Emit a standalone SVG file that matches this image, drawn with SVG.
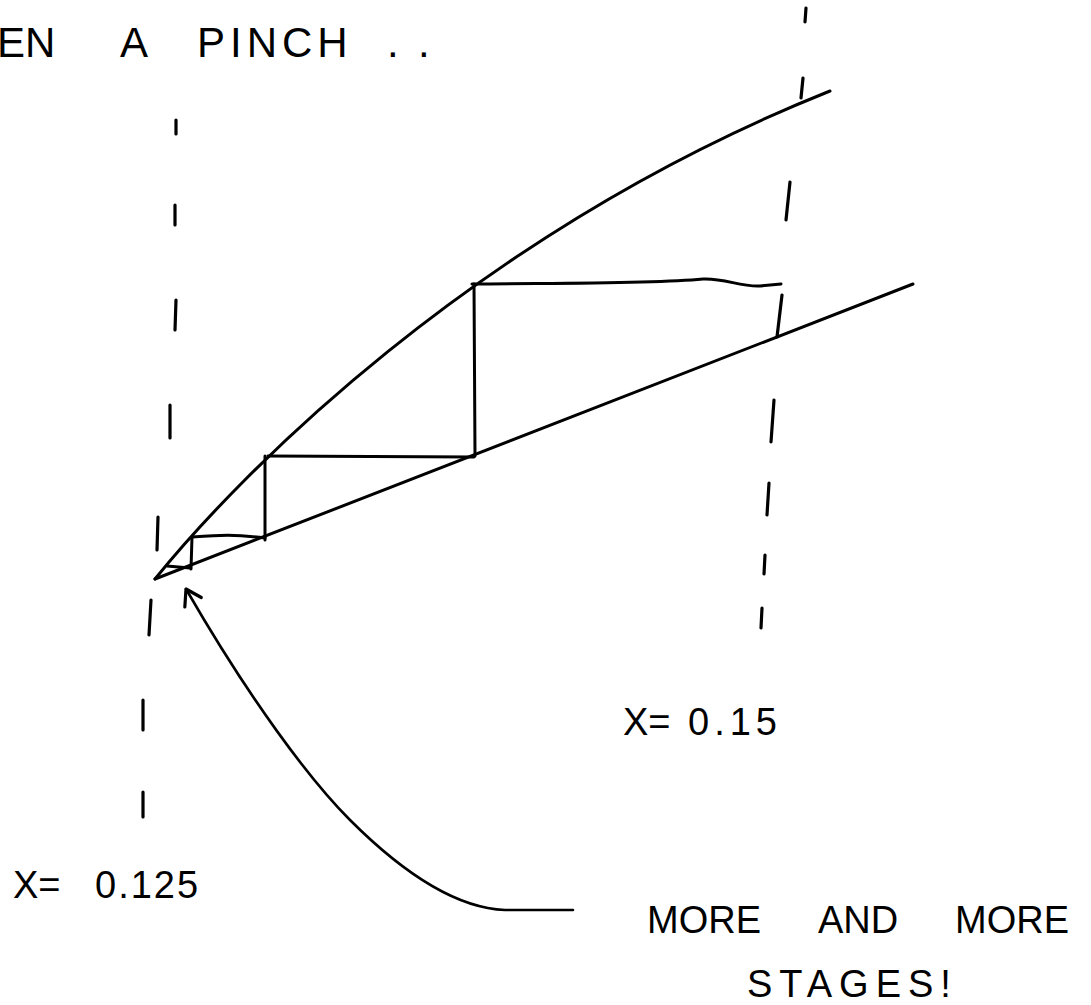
<svg xmlns="http://www.w3.org/2000/svg" width="1091" height="1005" viewBox="0 0 1091 1005">
<defs>
<style>
.ln{fill:none;stroke:#000;stroke-width:3;stroke-linecap:round;stroke-linejoin:round}
.tk{fill:none;stroke:#000;stroke-width:3.2;stroke-linecap:round}
.ar{fill:none;stroke:#000;stroke-width:2.6;stroke-linecap:round}
.hw{font-family:"Liberation Sans","DejaVu Sans",sans-serif;fill:#000}
</style>
<marker id="open" markerUnits="userSpaceOnUse" markerWidth="40" markerHeight="40" refX="0" refY="0" viewBox="-20 -20 40 40" orient="auto">
<path d="M-15,-10 L0,0 L-15,9" fill="none" stroke="#000" stroke-width="3.2" stroke-linecap="round" stroke-linejoin="round"/>
</marker>
</defs>
<rect width="1091" height="1005" fill="#fff"/>

<g id="title">
<text class="hw" font-size="42" y="57"><tspan x="-3">EN</tspan><tspan x="120">A</tspan><tspan x="197" letter-spacing="5">PINCH</tspan><tspan x="387">.</tspan><tspan x="418">.</tspan></text>
</g>

<g id="boundary-left">
<path class="tk" d="M176,120 L176,134 M175,205 L175,225 M176,300 L175,330 M170,405 L170,438 M158,517 L157,550 M151,600 L149,635 M143,700 L143,730 M143,792 L143,817"/>
</g>
<g id="boundary-right">
<path class="tk" d="M806,8 L805,22 M803,78 L801,98 M790,182 L786,220 M782,295 L777,337 M774,400 L771,442 M769,483 L767,515 M765,555 L764,574 M762,608 L761,628"/>
</g>

<g id="curves">
<path id="upper-curve" class="ln" d="M155,579 C235,480 470,235 830,91"/>
<path id="lower-line" class="ln" d="M155,579 L913,284"/>
</g>

<g id="stages">
<path class="ln" d="M472,284 C560,283 650,284 703,279 C725,278 740,287 760,286 L781,284"/>
<path class="ln" d="M474,284 L475,456"/>
<path class="ln" d="M268,456 L474,457"/>
<path class="ln" d="M265,456 L265,540"/>
<path class="ln" d="M192,537 C220,535 235,534 265,538"/>
<path class="ln" d="M192,537 L191,569"/>
<path class="ln" d="M167,566 L190,568"/>
</g>

<g id="labels">
<text class="hw" font-size="38" y="898"><tspan x="13">X=</tspan><tspan x="95" letter-spacing="2">0.125</tspan></text>
<text class="hw" font-size="38" y="735"><tspan x="623">X=</tspan><tspan x="688" letter-spacing="5">0.15</tspan></text>
<text class="hw" font-size="38" y="933"><tspan x="647">MORE</tspan><tspan x="818">AND</tspan><tspan x="955">MORE</tspan></text>
<text class="hw" font-size="38" y="997" x="747" letter-spacing="7">STAGES!</text>
</g>

<g id="connectors">
<path class="ar" marker-end="url(#open)" d="M573,910 L505,910 C455,908 400,870 350,820 C310,780 250,700 186,589"/>
</g>
</svg>
